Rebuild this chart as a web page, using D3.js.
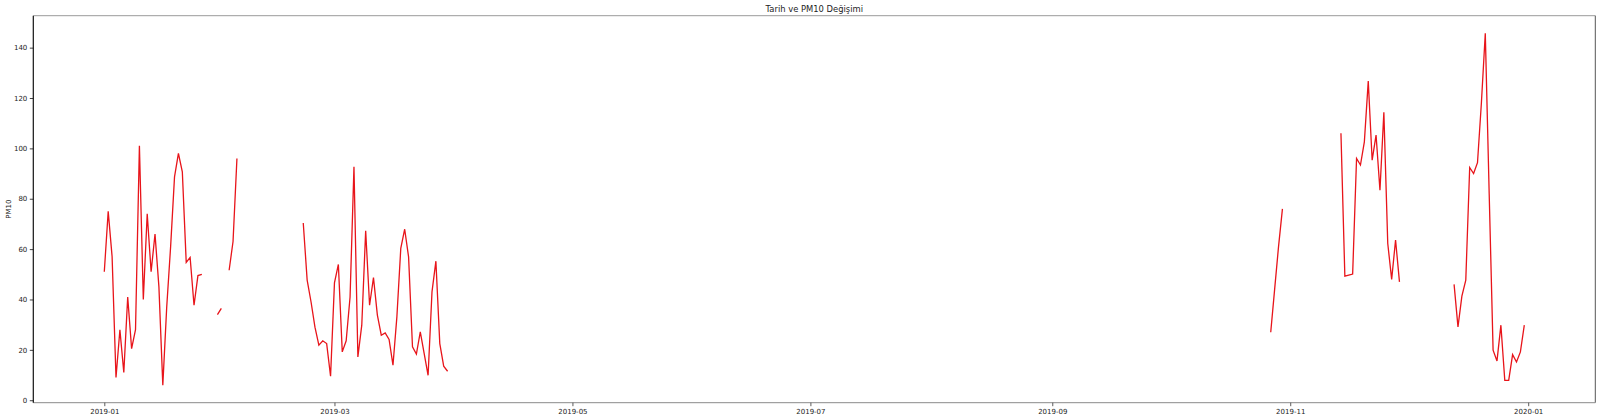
<!DOCTYPE html>
<html>
<head>
<meta charset="utf-8">
<script src="https://cdn.jsdelivr.net/npm/d3@7"></script>
<style>
  html, body { margin: 0; padding: 0; background: #fff; }
  svg { display: block; font-family: "DejaVu Sans", sans-serif; }
</style>
</head>
<body>
<svg id="chart" width="1600" height="420"></svg>
<script>
// ---- Data (daily PM10, gaps = missing days) ----
const title = "Tarih ve PM10 Değişimi";
const yLabel = "PM10";
const segmentStarts = ["2019-01-01", "2019-01-30", "2019-02-02", "2019-02-21", "2019-10-27", "2019-11-14", "2019-12-13"];
const segJan = [51, 75, 57, 9, 28, 11, 41, 20.5, 28, 101, 40, 74, 51, 66, 45, 6, 37, 61, 88.7, 98, 90.7, 54.7, 56.7, 37.7, 49.5, 50];
const segJanEnd = [34, 36.5];
const segFebEarly = [51.6, 63, 96];
const segFebMar = [70.4, 47.7, 39, 29, 21.9, 23.6, 22.5, 9.5, 46.6, 53.9, 19.2, 23.6, 41, 92.7, 17.2, 29.8, 67.3, 37.7, 48.7, 33.8, 25.8, 26.7, 24.1, 13.9, 33.1, 60.3, 67.9, 56.9, 21.2, 18.3, 27.1, 18.5, 9.9, 43, 55.2, 22.5, 13.5, 11.5];
const segOct = [27, 44, 61, 76];
const segNov = [106, 49.3, 49.7, 50.1, 96, 93.4, 102.6, 126.7, 95.3, 105.3, 83.4, 114.3, 62.2, 48, 63.6, 47];
const segDec = [46, 29.1, 41.3, 47.7, 92.4, 90, 94.3, 118, 145.7, 82, 19.9, 15.6, 29.8, 7.9, 7.9, 18.1, 15.2, 19.2, 29.8];
const segments = [segJan, segJanEnd, segFebEarly, segFebMar, segOct, segNov, segDec];
const firstDay = "2019-01-01";
const lastDay = "2019-12-31";
const xTickEveryMonths = 2;
const yTicks = [0, 20, 40, 60, 80, 100, 120, 140];

(function () {
// ---- Build a full daily series with nulls for missing days ----
const parse = d3.utcParse("%Y-%m-%d");
const valueByDay = new Map();
segments.forEach((vals, i) => {
  const start = parse(segmentStarts[i]);
  vals.forEach((v, k) => valueByDay.set(+d3.utcDay.offset(start, k), v));
});
const days = d3.utcDay.range(parse(firstDay), d3.utcDay.offset(parse(lastDay), 1));
const series = days.map(d => ({ date: d, value: valueByDay.has(+d) ? valueByDay.get(+d) : null }));

// ---- Layout ----
const svg = d3.select("#chart");
const mLeft = 33.3, mRight = 1595.3, mTop = 15.7, mBottom = 402.7;

const t0 = +parse(firstDay), t1 = +parse(lastDay);
const pad = (t1 - t0) * 0.05;
const x = d3.scaleUtc().domain([new Date(t0 - pad), new Date(t1 + pad)]).range([mLeft, mRight]);
const vMin = d3.min(series, d => d.value), vMax = d3.max(series, d => d.value);
const vPad = (vMax - vMin) * 0.05;
const y = d3.scaleLinear().domain([vMin - vPad, vMax + vPad]).range([mBottom, mTop]);

// Line
const line = d3.line()
  .defined(d => d.value !== null)
  .x(d => x(d.date))
  .y(d => y(d.value));
svg.append("path")
  .datum(series)
  .attr("fill", "none")
  .attr("stroke", "#e8141a")
  .attr("stroke-width", 1.3)
  .attr("stroke-linejoin", "miter")
  .attr("d", line);

// Spines
svg.append("line").attr("x1", mLeft).attr("x2", mRight).attr("y1", mTop).attr("y2", mTop)
  .attr("stroke", "#9a9a9a").attr("stroke-width", 1);
svg.append("line").attr("x1", mRight).attr("x2", mRight).attr("y1", mTop).attr("y2", mBottom)
  .attr("stroke", "#555").attr("stroke-width", 1);
svg.append("line").attr("x1", mLeft).attr("x2", mRight).attr("y1", mBottom).attr("y2", mBottom)
  .attr("stroke", "#8a8a8a").attr("stroke-width", 1);
svg.append("line").attr("x1", mLeft).attr("x2", mLeft).attr("y1", mTop).attr("y2", mBottom)
  .attr("stroke", "#111").attr("stroke-width", 1.2);

// X axis
const xAxis = d3.axisBottom(x)
  .ticks(d3.utcMonth.every(xTickEveryMonths))
  .tickFormat(d3.utcFormat("%Y-%m"))
  .tickSize(3.5).tickPadding(2.5);
const gx = svg.append("g").attr("transform", `translate(0,${mBottom})`).call(xAxis);
gx.select(".domain").remove();
gx.selectAll(".tick line").attr("stroke", "#333").attr("stroke-width", 0.8);
gx.selectAll(".tick text").attr("fill", "#222").attr("font-size", "7px")
  .attr("font-family", "DejaVu Sans, sans-serif");

// Y axis
const yAxis = d3.axisLeft(y).tickValues(yTicks).tickSize(3.5).tickPadding(2.5);
const gy = svg.append("g").attr("transform", `translate(${mLeft},0)`).call(yAxis);
gy.select(".domain").remove();
gy.selectAll(".tick line").attr("stroke", "#111").attr("stroke-width", 0.8);
gy.selectAll(".tick text").attr("fill", "#222").attr("font-size", "7px")
  .attr("font-family", "DejaVu Sans, sans-serif");

// Y label
svg.append("text")
  .attr("transform", `translate(10.5,${(mTop + mBottom) / 2}) rotate(-90)`)
  .attr("text-anchor", "middle")
  .attr("font-size", "7px")
  .attr("fill", "#222")
  .text(yLabel);

// Title
svg.append("text")
  .attr("x", (mLeft + mRight) / 2)
  .attr("y", 12)
  .attr("text-anchor", "middle")
  .attr("font-size", "8.4px")
  .attr("fill", "#222")
  .text(title);
})();
</script>
</body>
</html>
